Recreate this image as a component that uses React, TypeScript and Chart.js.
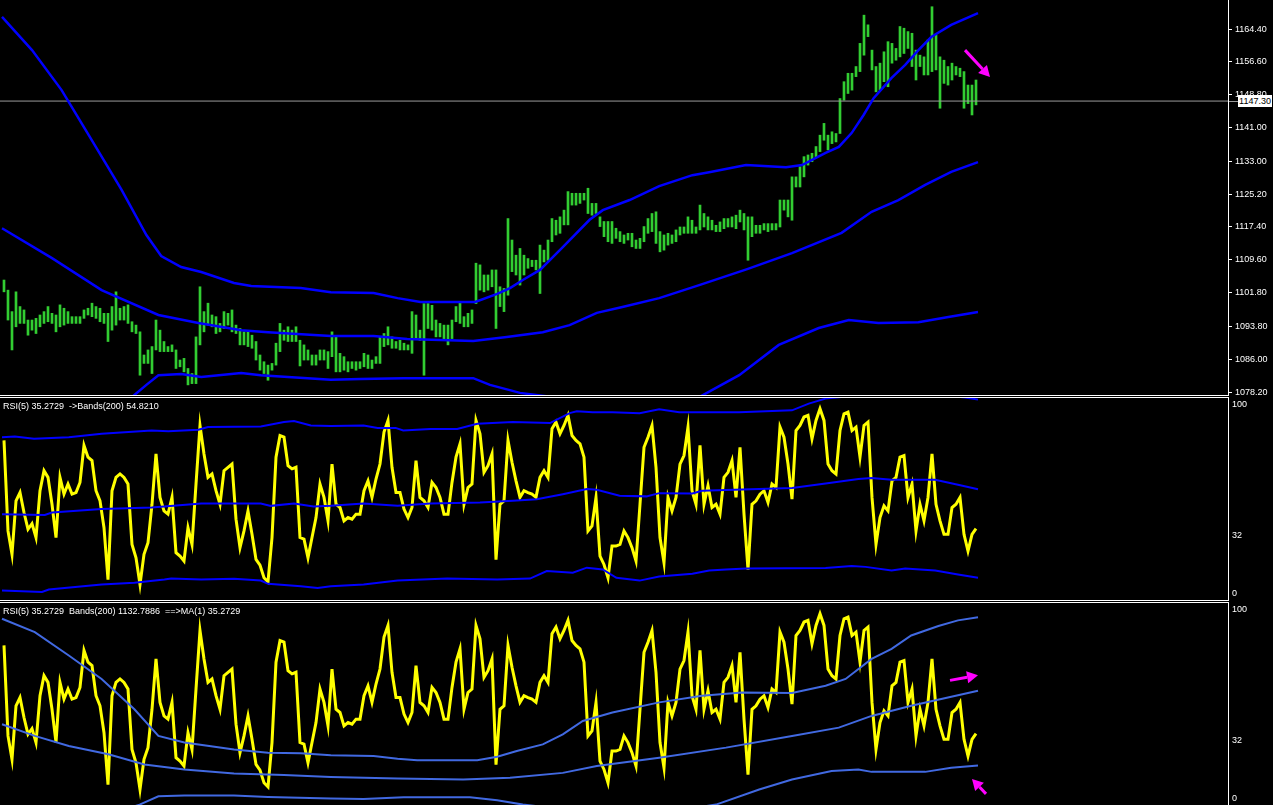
import React, { useEffect, useRef } from "react";
import { Chart, registerables } from "chart.js";
Chart.register(...registerables);

// ---------- price bars (high / low) ----------
const highs = [
  1104.8, 1102.4, 1097.3, 1102.0, 1098.5, 1097.7, 1095.3, 1095.3, 1095.7, 1096.5,
  1097.3, 1098.5, 1096.9, 1096.5, 1098.9, 1098.1, 1097.3, 1096.1, 1096.1, 1096.1,
  1097.7, 1098.1, 1099.3, 1098.5, 1098.1, 1096.9, 1096.9, 1098.5, 1102.0, 1098.1,
  1098.5, 1098.9, 1094.9, 1094.1, 1092.5, 1087.0, 1088.2, 1089.0, 1095.3, 1092.9,
  1090.2, 1089.0, 1089.4, 1088.2, 1085.8, 1086.2, 1083.8, 1082.6, 1091.3, 1103.2,
  1097.3, 1099.3, 1096.5, 1096.1, 1094.5, 1097.3, 1096.9, 1097.7, 1094.1, 1093.3,
  1092.5, 1092.5, 1091.7, 1090.2, 1087.0, 1085.4, 1084.6, 1085.0, 1089.8, 1094.5,
  1092.9, 1093.7, 1092.9, 1093.7, 1090.5, 1089.4, 1088.2, 1087.0, 1087.0, 1088.2,
  1088.2, 1087.8,
  1092.5, 1091.3, 1087.4, 1086.6, 1085.4, 1085.4, 1085.4, 1085.4, 1087.4, 1087.0,
  1085.8, 1086.6, 1091.3, 1092.1, 1093.7, 1091.3, 1090.2, 1090.5, 1089.8, 1089.4,
  1097.3, 1096.5, 1092.9, 1099.2, 1099.2, 1098.8, 1095.3, 1094.5, 1094.1, 1094.1,
  1095.3, 1098.5, 1099.6, 1096.1, 1096.9, 1097.7, 1108.8, 1108.4, 1106.0, 1106.0,
  1107.2, 1107.2, 1103.2, 1102.8, 1119.4, 1114.3, 1110.7, 1112.3, 1110.7, 1109.9,
  1109.5, 1109.5, 1113.1, 1111.9, 1114.3, 1119.4, 1119.0, 1119.8, 1121.4, 1125.8,
  1125.4, 1125.4, 1125.4, 1125.4, 1126.6, 1123.0, 1123.0, 1119.8, 1118.7, 1118.7,
  1118.7, 1117.1, 1116.3, 1115.5, 1115.9, 1115.9, 1114.3, 1114.7, 1117.5, 1119.4,
  1120.6, 1121.0,
  1116.3, 1115.5, 1115.9, 1115.5, 1116.7, 1117.4, 1117.4, 1119.8, 1119.0, 1117.4,
  1122.6, 1120.6, 1119.8, 1119.0, 1117.8, 1118.6, 1119.4, 1119.4, 1119.8, 1120.2,
  1121.4, 1120.6, 1119.8, 1119.8, 1117.8, 1117.8, 1118.2, 1118.2, 1118.2, 1118.2,
  1123.8, 1123.8, 1123.8, 1129.3, 1129.3, 1131.7, 1134.1, 1134.5, 1134.9, 1136.5,
  1139.2, 1142.0, 1139.2, 1140.0, 1139.6, 1147.9, 1151.9, 1153.9, 1153.9, 1155.5,
  1161.0, 1167.7, 1165.4, 1159.4, 1155.5, 1156.3, 1159.0, 1161.4, 1161.0, 1159.8,
  1165.0, 1164.6, 1163.8, 1163.4, 1159.4, 1158.2, 1157.8, 1161.8, 1169.7, 1163.0,
  1157.8, 1157.0, 1155.5, 1156.3, 1155.5, 1155.1, 1154.3, 1151.1, 1151.1, 1152.3,
];
const lows = [
  1102.0, 1095.3, 1088.2, 1093.7, 1094.5, 1094.5, 1091.7, 1092.9, 1092.1, 1093.7,
  1094.5, 1094.9, 1094.5, 1092.5, 1093.7, 1094.1, 1094.5, 1094.5, 1094.5, 1094.5,
  1095.7, 1096.5, 1096.1, 1095.7, 1094.9, 1094.5, 1090.2, 1092.9, 1094.1, 1095.3,
  1095.3, 1094.5, 1092.5, 1092.1, 1082.2, 1085.0, 1085.0, 1082.6, 1088.2, 1087.8,
  1087.8, 1087.8, 1087.8, 1083.8, 1084.2, 1083.0, 1079.9, 1080.2, 1080.2, 1089.4,
  1092.5, 1094.1, 1093.7, 1092.1, 1092.5, 1093.3, 1094.1, 1092.5, 1092.1, 1089.4,
  1089.4, 1089.0, 1088.6, 1085.8, 1083.4, 1082.6, 1081.0, 1083.4, 1084.6, 1087.8,
  1090.5, 1090.2, 1090.2, 1090.2, 1084.4, 1085.8, 1085.8, 1084.6, 1084.6, 1085.8,
  1085.8, 1083.8,
  1086.6, 1083.0, 1083.0, 1083.4, 1083.0, 1083.8, 1083.4, 1083.8, 1084.2, 1083.8,
  1083.8, 1085.0, 1085.0, 1089.0, 1089.4, 1088.6, 1088.6, 1088.2, 1088.2, 1088.2,
  1087.4, 1090.9, 1090.5, 1082.2, 1093.3, 1092.9, 1091.3, 1091.3, 1090.5, 1089.4,
  1090.9, 1094.9, 1094.5, 1093.7, 1093.7, 1094.5, 1099.2, 1102.4, 1102.0, 1102.4,
  1103.2, 1093.3, 1098.5, 1097.3, 1101.2, 1106.8, 1106.0, 1103.6, 1106.0, 1107.6,
  1108.0, 1107.2, 1101.6, 1109.1, 1109.5, 1113.9, 1115.5, 1115.9, 1117.9, 1117.9,
  1122.6, 1122.6, 1123.0, 1123.8, 1120.6, 1120.2, 1120.6, 1117.5, 1115.1, 1113.9,
  1113.5, 1114.7, 1113.9, 1113.5, 1114.3, 1112.7, 1112.3, 1112.3, 1113.9, 1115.9,
  1116.3, 1113.5,
  1111.5, 1111.9, 1113.1, 1113.5, 1113.9, 1115.5, 1115.9, 1115.9, 1115.9, 1115.9,
  1116.7, 1117.4, 1116.7, 1116.7, 1116.3, 1116.3, 1117.0, 1117.4, 1117.4, 1117.0,
  1118.6, 1116.7, 1109.5, 1115.1, 1115.9, 1115.9, 1116.7, 1116.3, 1116.7, 1116.7,
  1117.4, 1121.4, 1119.8, 1119.0, 1126.9, 1126.9, 1129.3, 1132.1, 1132.9, 1134.1,
  1135.3, 1138.0, 1135.7, 1137.2, 1137.6, 1139.6, 1147.5, 1149.1, 1149.9, 1153.1,
  1154.3, 1158.2, 1162.6, 1154.7, 1149.5, 1149.9, 1151.9, 1150.7, 1156.3, 1157.0,
  1157.8, 1158.6, 1159.8, 1155.5, 1152.3, 1155.5, 1153.5, 1153.5, 1154.3, 1154.7,
  1145.6, 1151.5, 1151.1, 1152.3, 1153.5, 1153.1, 1145.6, 1146.7, 1144.0, 1146.4,
];

// ---------- price Bollinger bands (bar index positions + values) ----------
const pUpperAt = [-0.5, 7, 14.4, 21.9, 29.4, 35.6, 39.3, 44.3, 49.3, 57.5, 61.8, 74.2, 81.7, 92.4, 98.4, 104.1, 117.8, 123.3, 126.5, 129.7, 134, 139.7, 146.4, 149.7, 156.4, 163.8, 172.1, 176.3, 185.5, 195.5, 199.5, 205.4, 208.7, 211.9, 214.9, 217.4, 221.9, 225.3, 228.6, 231.8, 236.8, 243.5];
const pUpper = [1167.3, 1159.4, 1149.9, 1138.1, 1126.2, 1115.5, 1110.5, 1107.9, 1106.7, 1104.1, 1103.4, 1102.9, 1101.9, 1101.7, 1100.5, 1099.6, 1099.6, 1101.5, 1102.9, 1104.8, 1107.2, 1112.6, 1119.1, 1121.4, 1123.8, 1127.1, 1129.7, 1130.4, 1132.1, 1131.6, 1132.1, 1135.0, 1136.4, 1139.7, 1144.0, 1148.0, 1152.8, 1155.9, 1159.4, 1162.5, 1165.4, 1168.2];
const pMiddleAt = [-0.5, 12, 24.4, 38.6, 48.6, 59.3, 66, 81.7, 92.4, 100.8, 117.3, 125.7, 134.7, 141.4, 148.2, 154.6, 163.8, 173.8, 185.8, 197, 209.4, 216.9, 223.6, 230.3, 236.8, 243.5];
const pMiddle = [1117.1, 1110.0, 1102.4, 1096.5, 1094.6, 1092.9, 1092.4, 1091.5, 1091.5, 1090.8, 1090.3, 1091.3, 1092.4, 1094.1, 1097.0, 1098.4, 1100.5, 1103.6, 1107.4, 1111.2, 1116.0, 1121.0, 1123.8, 1127.4, 1130.5, 1132.8];
const pLowerAt = [24.4, 32.6, 35.6, 38.6, 44.3, 49.3, 59.3, 64.2, 81.7, 89.1, 99.9, 117.3, 121.5, 129, 138.9, 153.9, 173.8, 183.8, 193.7, 203.7, 211.2, 218.6, 228.6, 236.1, 243.5];
const pLower = [1071.0, 1077.5, 1079.9, 1082.2, 1082.5, 1081.8, 1082.7, 1082.2, 1081.1, 1081.3, 1081.5, 1081.5, 1079.9, 1078.0, 1076.8, 1076.3, 1077.0, 1082.2, 1089.4, 1093.4, 1095.3, 1094.6, 1094.8, 1096.0, 1097.2];
const currentPrice = 1147.3;
const priceTicks = [1164.4, 1156.6, 1148.8, 1141.0, 1133.0, 1125.2, 1117.4, 1109.6, 1101.8, 1093.8, 1086.0, 1078.2];

// ---------- RSI(5) ----------
const rsi = [
  79.0, 34.2, 22.6, 49.1, 53.2, 43.3, 35.0, 37.8, 30.9, 54.1,
  64.0, 60.7, 47.4, 30.9, 60.7, 52.4, 57.4, 52.4, 53.2, 58.2,
  76.5, 70.7, 69.0, 54.1, 49.1, 35.8, 10.1, 54.1, 60.7, 62.4,
  60.7, 57.4, 27.5, 20.9, 7.7, 22.6, 28.4, 47.4, 72.3, 50.8,
  44.1, 42.5, 50.8, 23.4, 21.7, 19.3, 35.8, 27.5, 57.4, 86.4,
  72.3, 60.7, 62.4, 54.1, 47.4, 64.0, 65.7, 67.3, 40.0, 25.9,
  34.2, 44.1, 32.5, 20.1, 17.3, 11.0, 9.0, 30.9, 70.7, 81.4,
  80.6, 66.5, 64.9, 65.7, 30.9, 30.1, 20.9, 30.9, 40.8, 57.4,
  50.8, 39.2,
  67.3, 47.4, 45.8, 39.2, 40.8, 40.0, 42.5, 42.5, 54.1, 59.0,
  50.8, 59.9, 67.3, 83.1, 88.9, 65.7, 53.2, 53.2, 45.0, 40.8,
  45.8, 69.0, 50.8, 49.1, 45.8, 58.2, 55.7, 50.8, 42.5, 42.5,
  58.2, 70.7, 77.3, 47.4, 55.7, 57.4, 88.9, 82.3, 63.2, 66.5,
  72.3, 20.0, 47.4, 49.1, 79.0, 68.2, 59.0, 50.8, 54.1, 53.2,
  52.4, 50.8, 60.7, 64.0, 60.7, 84.8, 88.1, 82.3, 86.4, 91.4,
  81.4, 79.0, 77.3, 70.7, 34.2, 36.7, 50.8, 21.7, 17.6, 11.0,
  26.7, 26.7, 27.5, 34.2, 30.9, 25.9, 19.3, 47.4, 75.6, 80.6,
  86.4, 65.7,
  30.9, 18.4, 50.8, 44.1, 50.8, 67.3, 71.5, 85.6, 54.1, 47.4,
  76.5, 47.4, 56.6, 45.8, 47.4, 42.5, 60.7, 63.2, 69.0, 50.8,
  75.6, 42.5, 15.0, 47.4, 49.1, 52.4, 54.1, 48.3, 57.4, 55.7,
  85.6, 80.6, 67.3, 49.9, 83.9, 86.4, 90.6, 91.4, 79.8, 88.9,
  94.7, 88.9, 67.3, 64.0, 62.4, 83.9, 92.2, 93.0, 83.9, 85.6,
  70.7, 86.4, 88.1, 50.8, 27.5, 40.8, 46.6, 44.1, 59.0, 60.7,
  70.7, 71.5, 50.8, 57.4, 34.2, 47.4, 39.2, 50.8, 72.3, 47.4,
  39.2, 32.5, 32.5, 45.8, 47.4, 50.8, 32.5, 24.2, 32.5, 35.3,
];

// ---------- Bands(200) applied to RSI (middle window) ----------
const rUpperAt = [-0.5, 2.7, 7.5, 16.2, 24.4, 36.9, 41.1, 48.6, 51, 64.2, 70, 72.5, 76.7, 81.7, 89.9, 93.4, 97.9, 99.8, 106.6, 113.3, 118.3, 127.2, 136.5, 141.4, 143.2, 147.2, 152.1, 158.9, 163.8, 168.8, 183.8, 197, 201.2, 205.4, 209.4, 223.6, 240.3, 243.5];
const rUpper = [80.6, 80.9, 79.8, 80.6, 82.3, 83.9, 83.6, 84.3, 85.6, 85.9, 88.1, 88.6, 86.4, 86.2, 86.4, 85.2, 85.2, 83.9, 84.7, 84.7, 87.2, 88.1, 87.6, 92.5, 93.4, 93.0, 93.0, 92.5, 94.4, 93.0, 93.0, 93.9, 97.2, 99.7, 100.5, 103.0, 100.3, 99.2];
const rMiddleAt = [-0.5, 10.2, 12, 24.4, 36.9, 49.3, 64.2, 66.7, 72.5, 77.4, 81.7, 89.9, 98.4, 106.6, 119, 127.2, 133.2, 139.7, 145.7, 148.2, 153.9, 160.6, 163.8, 172.1, 174.5, 180.5, 197, 205.4, 213.6, 216.9, 221.9, 232.8, 238.5, 243.5];
const rMiddle = [42.5, 42.1, 43.3, 45.0, 45.8, 47.8, 47.8, 46.6, 47.8, 46.3, 46.6, 47.8, 46.6, 47.8, 48.3, 49.1, 49.9, 52.4, 54.9, 54.6, 51.6, 51.3, 52.9, 52.7, 54.1, 54.4, 55.4, 57.7, 59.9, 60.4, 59.5, 59.5, 57.1, 54.8];
const rLowerAt = [-0.5, 9.5, 11.2, 24.4, 32.6, 40.1, 41.8, 49.3, 57.5, 64.2, 66, 74.2, 78.4, 81.7, 89.9, 98.4, 110.8, 123.3, 131.5, 135.7, 142.2, 145.7, 149.7, 153.1, 158.9, 163.8, 172.1, 176.3, 180.5, 185.5, 205.4, 211.9, 215.4, 221.9, 225.3, 232.8, 238.5, 243.5];
const rLower = [4.7, 4.0, 5.2, 7.7, 8.5, 10.1, 10.6, 10.1, 10.5, 9.6, 8.0, 6.8, 6.0, 6.8, 7.7, 9.6, 10.6, 10.1, 10.6, 14.3, 13.5, 16.0, 15.1, 11.0, 9.6, 11.6, 13.0, 14.6, 15.1, 15.6, 15.9, 16.8, 16.4, 14.6, 15.6, 14.6, 12.6, 11.0];

// ---------- Bands(200) of price drawn in the bottom window ----------
const bUpperAt = [-0.5, 7.7, 16.2, 24.4, 32.6, 38.6, 45.1, 57.5, 66, 74.2, 81.7, 92.4, 98.4, 103.3, 118.3, 123.3, 128.2, 134.7, 139.7, 144.7, 152.1, 163.8, 174.5, 184.5, 197, 205.4, 210.4, 216.9, 221.9, 226.8, 233.6, 238.5, 243.5];
const bUpper = [92.2, 85.6, 74.0, 62.4, 47.4, 34.2, 30.9, 27.5, 25.9, 25.6, 24.6, 24.2, 22.9, 22.2, 22.2, 23.9, 26.7, 30.0, 35.0, 41.6, 45.8, 50.8, 54.1, 55.7, 55.4, 59.0, 62.4, 72.3, 77.3, 83.9, 88.6, 91.4, 93.0];
const bMiddleAt = [-0.5, 7.7, 16.2, 26.1, 35.1, 45.1, 57.5, 70, 81.7, 98.4, 114.8, 126.5, 139.7, 148.2, 163.8, 180.5, 197, 208.7, 216.9, 226.8, 243.5];
const bMiddle = [40.0, 34.2, 29.2, 25.1, 20.1, 17.6, 15.6, 14.8, 13.8, 13.1, 12.6, 13.5, 15.9, 19.3, 23.4, 28.4, 34.2, 38.3, 44.1, 49.1, 56.6];
const bLowerAt = [24.4, 33.9, 38.6, 45.1, 57.5, 66, 81.7, 89.9, 99.9, 116.5, 123.3, 129.7, 148.9, 163.8, 178, 188.8, 197, 206.9, 213.6, 216.9, 230.3, 236.8, 243.5];
const bLower = [-6, 0.2, 4.3, 4.7, 4.7, 4.0, 3.2, 3.0, 3.8, 3.8, 2.3, 0.2, -4, -4, 0.2, 7.7, 12.6, 16.8, 17.6, 16.4, 16.4, 18.4, 19.6];

// RSI window scale labels (MT4 draws the 0/100 labels just inside the window edges)
const rsiTickAt = [3, 32, 97];
const rsiTickText = ["0", "32", "100"];

// annotation arrows: [fromIndex, fromValue, toIndex, toValue]
const topArrow = [240.25, 1159.4, 246.5, 1153.0];
const bottomArrowA = [236.5, 61.7, 243.5, 64.2];
const bottomArrowB = [245.5, 5.5, 242.0, 12.9];

const FONT = "'Liberation Sans', Arial, sans-serif";

function pts(at: number[], vals: number[]) {
  return at.map((x, i) => ({ x, y: vals[i] }));
}

function arrowPlugin(arrows: number[][]) {
  return {
    id: "arrows",
    afterDatasetsDraw(chart: any) {
      const { ctx } = chart;
      const xs = chart.scales.x;
      const ys = chart.scales.y;
      ctx.save();
      arrows.forEach((a) => {
        const x0 = xs.getPixelForValue(a[0]);
        const y0 = ys.getPixelForValue(a[1]);
        const x1 = xs.getPixelForValue(a[2]);
        const y1 = ys.getPixelForValue(a[3]);
        const ang = Math.atan2(y1 - y0, x1 - x0);
        const c = Math.cos(ang);
        const s = Math.sin(ang);
        const head = 11;
        const hw = 6;
        const bx = x1 - head * c;
        const by = y1 - head * s;
        ctx.strokeStyle = "#ff00ff";
        ctx.fillStyle = "#ff00ff";
        ctx.lineWidth = 3;
        ctx.beginPath();
        ctx.moveTo(x0, y0);
        ctx.lineTo(bx, by);
        ctx.stroke();
        ctx.beginPath();
        ctx.moveTo(x1, y1);
        ctx.lineTo(bx - hw * s, by + hw * c);
        ctx.lineTo(bx + hw * s, by - hw * c);
        ctx.closePath();
        ctx.fill();
      });
      ctx.restore();
    },
  };
}

function baseOptions(yMin: number, yMax: number, yExtra: any) {
  return {
    animation: false,
    responsive: false,
    maintainAspectRatio: false,
    events: [],
    layout: { padding: 0 },
    plugins: {
      legend: { display: false },
      tooltip: { enabled: false },
      title: { display: false },
    },
    scales: {
      x: { type: "linear", min: -1, max: 306, display: false, offset: false },
      y: {
        position: "right",
        min: yMin,
        max: yMax,
        afterFit(scale: any) {
          scale.width = 45;
          scale.paddingTop = 0;
          scale.paddingBottom = 0;
        },
        border: { display: true, color: "#ffffff", width: 1 },
        ...yExtra,
      },
    },
  };
}

function lineDs(data: any[], color: string, width: number, order: number) {
  return {
    type: "line",
    data,
    borderColor: color,
    borderWidth: width,
    pointRadius: 0,
    tension: 0,
    fill: false,
    order,
  };
}

export default function App() {
  const topRef = useRef<HTMLCanvasElement>(null);
  const midRef = useRef<HTMLCanvasElement>(null);
  const botRef = useRef<HTMLCanvasElement>(null);

  useEffect(() => {
    document.body.style.margin = "0";
    document.body.style.background = "#000";
    const charts: Chart[] = [];

    const rsiPts = rsi.map((v, i) => ({ x: i, y: v }));
    const rsiAxis = {
      afterBuildTicks(scale: any) {
        scale.ticks = rsiTickAt.map((v) => ({ value: v }));
      },
      grid: { display: true, drawOnChartArea: false, drawTicks: false, color: "#ffffff" },
      ticks: {
        color: "#ffffff",
        font: { family: FONT, size: 9 },
        padding: 4,
        autoSkip: false,
        callback: (v: number) => rsiTickText[rsiTickAt.indexOf(v)] ?? "",
      },
    };

    // --- top (price) window ---
    charts.push(
      new Chart(topRef.current as HTMLCanvasElement, {
        type: "bar",
        data: {
          datasets: [
            {
              type: "bar",
              data: highs.map((h, i) => ({ x: i, y: [lows[i], h] })),
              backgroundColor: "#32cd32",
              borderWidth: 0,
              barThickness: 2,
              grouped: false,
              order: 5,
            },
            lineDs([{ x: -1, y: currentPrice }, { x: 306, y: currentPrice }], "#9a9a9a", 1, 4),
            lineDs(pts(pUpperAt, pUpper), "#0000ff", 2.5, 1),
            lineDs(pts(pMiddleAt, pMiddle), "#0000ff", 2.5, 1),
            lineDs(pts(pLowerAt, pLower), "#0000ff", 2.5, 1),
          ] as any,
        },
        options: baseOptions(1077.5, 1171.3, {
          afterBuildTicks(scale: any) {
            scale.ticks = priceTicks.map((v) => ({ value: v }));
          },
          grid: {
            display: true,
            drawOnChartArea: false,
            drawTicks: true,
            tickLength: 4,
            color: "#ffffff",
            tickColor: "#ffffff",
          },
          ticks: {
            color: "#ffffff",
            font: { family: FONT, size: 9 },
            padding: 3,
            autoSkip: false,
            callback: (v: number) => Number(v).toFixed(2),
          },
        }) as any,
        plugins: [arrowPlugin([topArrow])],
      })
    );

    // --- middle window: RSI with bands on RSI ---
    charts.push(
      new Chart(midRef.current as HTMLCanvasElement, {
        type: "line",
        data: {
          datasets: [
            lineDs(rsiPts, "#ffff00", 3, 3),
            lineDs(pts(rUpperAt, rUpper), "#0000ff", 2, 1),
            lineDs(pts(rMiddleAt, rMiddle), "#0000ff", 2, 1),
            lineDs(pts(rLowerAt, rLower), "#0000ff", 2, 1),
          ] as any,
        },
        options: baseOptions(0, 100, rsiAxis) as any,
      })
    );

    // --- bottom window: RSI with price bands ---
    charts.push(
      new Chart(botRef.current as HTMLCanvasElement, {
        type: "line",
        data: {
          datasets: [
            lineDs(rsiPts, "#ffff00", 3, 3),
            lineDs(pts(bUpperAt, bUpper), "#4169e1", 2, 1),
            lineDs(pts(bMiddleAt, bMiddle), "#4169e1", 2, 1),
            lineDs(pts(bLowerAt, bLower), "#4169e1", 2, 1),
          ] as any,
        },
        options: baseOptions(0, 100, rsiAxis) as any,
        plugins: [arrowPlugin([bottomArrowA, bottomArrowB])],
      })
    );

    return () => charts.forEach((c) => c.destroy());
  }, []);

  const label: React.CSSProperties = {
    position: "absolute",
    left: 3,
    color: "#ffffff",
    font: `9px ${FONT}`,
    lineHeight: "12px",
    whiteSpace: "pre",
  };
  const sep = (top: number): React.CSSProperties => ({
    position: "absolute",
    left: 0,
    top,
    width: 1229,
    height: 1,
    background: "#ffffff",
  });

  return (
    <div
      style={{
        position: "fixed",
        left: 0,
        top: 0,
        width: 1273,
        height: 805,
        background: "#000",
        overflow: "hidden",
      }}
    >
      <canvas ref={topRef} width={1273} height={395} style={{ position: "absolute", left: 0, top: 0 }} />
      <div style={sep(395)} />
      <div style={sep(397)} />
      <canvas ref={midRef} width={1273} height={202} style={{ position: "absolute", left: 0, top: 398 }} />
      <div style={sep(600)} />
      <div style={sep(602)} />
      <canvas ref={botRef} width={1273} height={202} style={{ position: "absolute", left: 0, top: 603 }} />
      <div style={{ ...label, top: 400 }}>{"RSI(5) 35.2729  ->Bands(200) 54.8210"}</div>
      <div style={{ ...label, top: 605 }}>{"RSI(5) 35.2729  Bands(200) 1132.7886  ==>MA(1) 35.2729"}</div>
      <div style={{ position: "absolute", left: 1229, top: 101, width: 9, height: 1, background: "#9a9a9a" }} />
      <div
        style={{
          position: "absolute",
          left: 1238,
          top: 95,
          width: 34,
          height: 12,
          background: "#ffffff",
          color: "#000000",
          font: `9px ${FONT}`,
          lineHeight: "12px",
          textAlign: "center",
        }}
      >
        1147.30
      </div>
    </div>
  );
}
